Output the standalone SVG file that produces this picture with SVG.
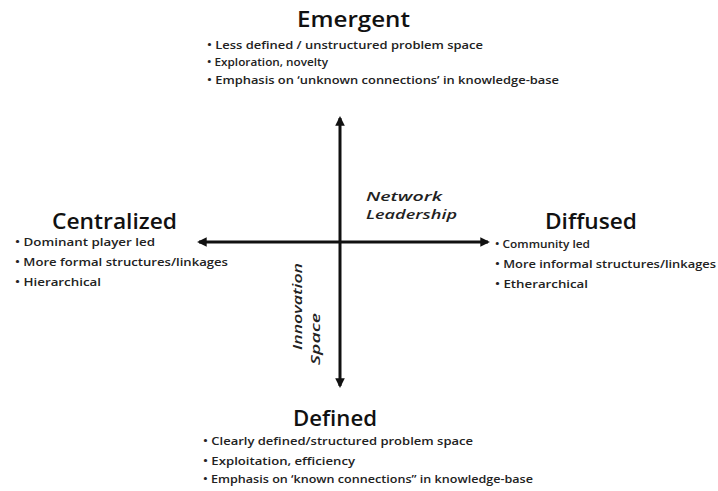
<svg xmlns="http://www.w3.org/2000/svg" width="718" height="491" viewBox="0 0 718 491">
  <style>
    .title { font-family: "Open Sans", "DejaVu Sans", sans-serif; font-size: 21px; font-weight: 600; fill: #111; }
    .item { font-family: "Open Sans", "DejaVu Sans", sans-serif; font-size: 11.5px; font-weight: 600; fill: #222; }
    .axis-label { font-family: "Open Sans", "DejaVu Sans", sans-serif; font-size: 13px; font-weight: 600; font-style: italic; fill: #222; }
    .axis { stroke: #111; stroke-width: 3; fill: none; }
  </style>
  <defs>
    <marker id="arrow" viewBox="0 0 10 10" refX="8" refY="5" markerWidth="3.2" markerHeight="3.2" orient="auto" markerUnits="strokeWidth">
      <path d="M0,0 L10,5 L0,10 Z" fill="#111"/>
    </marker>
  </defs>
  <rect width="718" height="491" fill="#fff"/>

  <!-- axes -->
  <g id="connectors">
    <line class="axis" x1="340" y1="242" x2="340" y2="118" marker-end="url(#arrow)"/>
    <line class="axis" x1="340" y1="242" x2="340" y2="386" marker-end="url(#arrow)"/>
    <line class="axis" x1="340" y1="242" x2="199" y2="242" marker-end="url(#arrow)"/>
    <line class="axis" x1="340" y1="242" x2="488" y2="242" marker-end="url(#arrow)"/>
  </g>

  <g id="emergent">
    <text class="title" x="297" y="27" textLength="113" lengthAdjust="spacingAndGlyphs">Emergent</text>
    <text class="item" x="207" y="49" textLength="276" lengthAdjust="spacingAndGlyphs">• Less defined / unstructured problem space</text>
    <text class="item" x="207" y="66" textLength="121" lengthAdjust="spacingAndGlyphs">• Exploration, novelty</text>
    <text class="item" x="207" y="84" textLength="352" lengthAdjust="spacingAndGlyphs">• Emphasis on ‘unknown connections’ in knowledge-base</text>
  </g>

  <g id="centralized">
    <text class="title" x="52" y="229" textLength="125" lengthAdjust="spacingAndGlyphs">Centralized</text>
    <text class="item" x="15" y="246" textLength="140" lengthAdjust="spacingAndGlyphs">• Dominant player led</text>
    <text class="item" x="15" y="266" textLength="213" lengthAdjust="spacingAndGlyphs">• More formal structures/linkages</text>
    <text class="item" x="15" y="286" textLength="86" lengthAdjust="spacingAndGlyphs">• Hierarchical</text>
  </g>

  <g id="diffused">
    <text class="title" x="545" y="229" textLength="92" lengthAdjust="spacingAndGlyphs">Diffused</text>
    <text class="item" x="495" y="248" textLength="95" lengthAdjust="spacingAndGlyphs">• Community led</text>
    <text class="item" x="495" y="268" textLength="221" lengthAdjust="spacingAndGlyphs">• More informal structures/linkages</text>
    <text class="item" x="495" y="288" textLength="93" lengthAdjust="spacingAndGlyphs">• Etherarchical</text>
  </g>

  <g id="defined">
    <text class="title" x="293" y="426" textLength="84" lengthAdjust="spacingAndGlyphs">Defined</text>
    <text class="item" x="203" y="445" textLength="270" lengthAdjust="spacingAndGlyphs">• Clearly defined/structured problem space</text>
    <text class="item" x="203" y="465" textLength="152" lengthAdjust="spacingAndGlyphs">• Exploitation, efficiency</text>
    <text class="item" x="203" y="483" textLength="330" lengthAdjust="spacingAndGlyphs">• Emphasis on ‘known connections” in knowledge-base</text>
  </g>

  <g id="network-leadership">
    <text class="axis-label" x="366" y="201" textLength="76" lengthAdjust="spacingAndGlyphs">Network</text>
    <text class="axis-label" x="366" y="219" textLength="91" lengthAdjust="spacingAndGlyphs">Leadership</text>
  </g>

  <g id="innovation-space">
    <text class="axis-label" transform="translate(302,350) rotate(-90)" x="0" y="0" textLength="87" lengthAdjust="spacingAndGlyphs">Innovation</text>
    <text class="axis-label" transform="translate(320,365) rotate(-90)" x="0" y="0" textLength="52" lengthAdjust="spacingAndGlyphs">Space</text>
  </g>
</svg>
